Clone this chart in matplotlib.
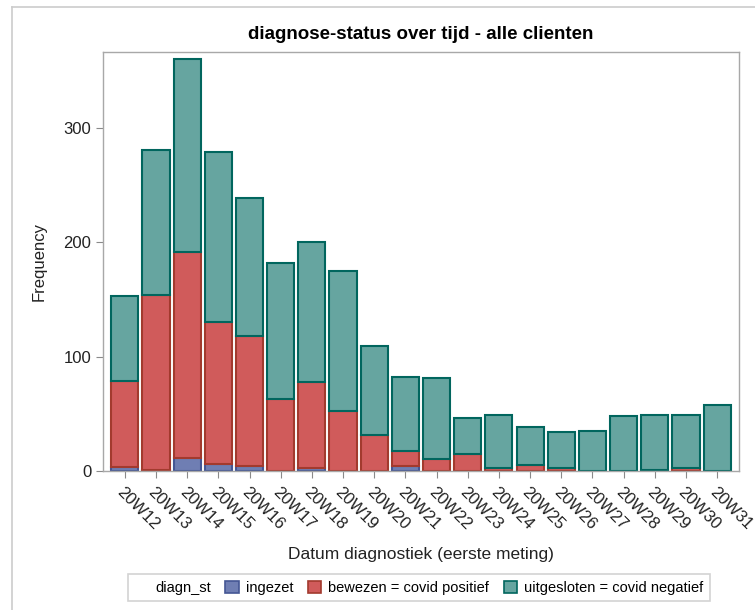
import matplotlib.pyplot as plt
from matplotlib.patches import Patch
from matplotlib.lines import Line2D
import numpy as np

plt.rcParams['font.family'] = ['Liberation Sans', 'DejaVu Sans']

# weeks on the x axis
weeks = ['20W12', '20W13', '20W14', '20W15', '20W16', '20W17', '20W18', '20W19', '20W20', '20W21',
         '20W22', '20W23', '20W24', '20W25', '20W26', '20W27', '20W28', '20W29', '20W30', '20W31']

# counts per diagnose status
ingezet = [3, 1, 11, 6, 4, 0, 2, 0, 0, 4,
           0, 0, 0, 0, 0, 0, 0, 0, 0, 0]
bewezen = [76, 153, 181, 124, 114, 63, 76, 52, 31, 13,
           10, 15, 2, 5, 2, 0, 0, 1, 2, 0]
uitgesloten = [74, 127, 169, 149, 121, 119, 122, 123, 78, 65,
               71, 31, 47, 33, 32, 35, 48, 48, 47, 58]

labels = ['ingezet', 'bewezen = covid positief', 'uitgesloten = covid negatief']
fill_colors = ['#6F7EB3', '#D05B5B', '#66A5A0']
edge_colors = ['#445694', '#A23A2E', '#01665E']

fig = plt.figure(figsize=(7.55, 6.1), dpi=100)
ax = fig.add_axes([0.1364, 0.2284, 0.8424, 0.6864])

x = np.arange(len(weeks))
bottom = np.zeros(len(weeks))
for vals, fc, ec in zip([ingezet, bewezen, uitgesloten], fill_colors, edge_colors):
    vals = np.array(vals, dtype=float)
    ax.bar(x, vals, width=0.87, bottom=bottom, color=fc, edgecolor=ec, linewidth=1.5)
    bottom += vals

ax.set_xlim(-0.7, 19.7)
ax.set_ylim(0, 367)
ax.set_yticks([0, 100, 200, 300])
ax.set_xticks(x)
ax.set_xticklabels(weeks, rotation=-45, ha='left', va='top', rotation_mode='anchor')
ax.tick_params(axis='both', colors='#8a8a8a', labelcolor='#222222', labelsize=12, length=5)
ax.tick_params(axis='x', pad=5)

for s in ax.spines.values():
    s.set_color('#a8a8a8')
    s.set_linewidth(1.0)

ax.set_ylabel('Frequency', fontsize=12, color='#222222', labelpad=12)
ax.set_xlabel('Datum diagnostiek (eerste meting)', fontsize=12.5, color='#222222', labelpad=10)
ax.set_title('diagnose-status over tijd - alle clienten', fontsize=13.5, fontweight='bold', pad=9)

handles = [Patch(visible=False)]
handles += [Patch(facecolor=fc, edgecolor=ec, linewidth=1.2) for fc, ec in zip(fill_colors, edge_colors)]
leg = fig.legend(handles, ['diagn_st'] + labels, loc='center', bbox_to_anchor=(0.555, 0.0365),
                 ncol=4, fontsize=10.5, frameon=True, fancybox=False, handlelength=0.9,
                 handleheight=0.9, handletextpad=0.5, columnspacing=1.0, borderpad=0.45)
leg.get_frame().set_edgecolor('#c8c8c8')
leg.get_frame().set_linewidth(1.2)

# outer frame lines (top and left, as in the screenshot)
fig.add_artist(Line2D([12 / 755, 12 / 755], [0, 1 - 7 / 610], transform=fig.transFigure, color='#cccccc', lw=1.2))
fig.add_artist(Line2D([12 / 755, 1], [1 - 7 / 610, 1 - 7 / 610], transform=fig.transFigure, color='#cccccc', lw=1.2))

plt.savefig('out.png', dpi=100)
